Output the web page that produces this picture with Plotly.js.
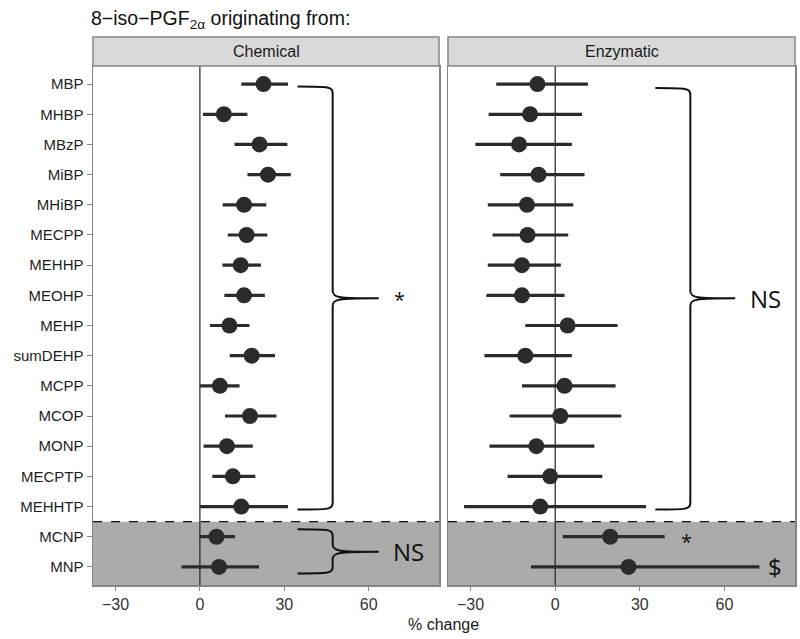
<!DOCTYPE html>
<html>
<head>
<meta charset="utf-8">
<script src="https://cdn.plot.ly/plotly-3.0.1.min.js"></script>
<style>
  html, body { margin: 0; padding: 0; background: #fff; }
  #chart { width: 800px; height: 639px; }
</style>
</head>
<body>
<div id="chart"></div>
<script>
// metabolites, top to bottom
var metabolites = ['MBP', 'MHBP', 'MBzP', 'MiBP', 'MHiBP', 'MECPP', 'MEHHP', 'MEOHP', 'MEHP',
                   'sumDEHP', 'MCPP', 'MCOP', 'MONP', 'MECPTP', 'MEHHTP', 'MCNP', 'MNP'];

// % change and 95% CI, chemical origin
var chemEst = [22.6, 8.5, 21.2, 24.2, 15.7, 16.6, 14.5, 15.7, 10.5, 18.4, 7.1, 17.8, 9.6, 11.7, 14.7, 5.9, 6.8];
var chemLow = [14.7, 1.1, 12.3, 16.9, 8.1, 9.9, 8.0, 8.7, 3.6, 10.6, 0.0, 8.9, 1.3, 4.4, 0.0, -0.2, -6.5];
var chemHigh = [31.3, 16.9, 31.1, 32.3, 23.6, 24.0, 21.7, 23.1, 17.6, 26.7, 14.1, 27.2, 18.8, 19.7, 31.3, 12.5, 21.0];

// % change and 95% CI, enzymatic origin
var enzEst = [-6.3, -8.9, -12.8, -5.9, -10.0, -9.8, -11.8, -11.8, 4.4, -10.6, 3.3, 1.8, -6.7, -1.8, -5.3, 19.5, 26.0];
var enzLow = [-20.9, -23.6, -28.3, -19.5, -23.9, -22.2, -23.9, -24.4, -10.6, -25.1, -11.8, -16.2, -23.3, -16.9, -32.3, 2.7, -8.6];
var enzHigh = [11.6, 9.5, 5.9, 10.4, 6.4, 4.6, 2.0, 3.3, 22.1, 5.9, 21.4, 23.4, 13.9, 16.7, 32.2, 38.8, 72.4];

var xTicks = [-30, 0, 30, 60];
var panels = ['Chemical', 'Enzymatic'];

var dark = '#2b2b2b';
var frame = '#858585';

function ciTrace(est, low, high, xa, ya) {
  return {
    type: 'scatter',
    mode: 'markers',
    x: est,
    y: metabolites,
    xaxis: xa,
    yaxis: ya,
    marker: { color: dark, size: 16 },
    error_x: {
      type: 'data',
      symmetric: false,
      array: est.map(function (v, i) { return high[i] - v; }),
      arrayminus: est.map(function (v, i) { return v - low[i]; }),
      color: dark,
      thickness: 3.2,
      width: 0
    },
    showlegend: false,
    hoverinfo: 'skip'
  };
}

var data = [
  ciTrace(chemEst, chemLow, chemHigh, 'x', 'y'),
  ciTrace(enzEst, enzLow, enzHigh, 'x2', 'y2')
];

var xBase = {
  range: [-38, 85],
  tickvals: xTicks,
  ticktext: xTicks.map(function (v) { return v < 0 ? '\u2212' + Math.abs(v) : String(v); }),
  ticks: 'outside',
  ticklen: 4,
  tickcolor: frame,
  tickfont: { family: 'Liberation Sans, Arial, sans-serif', size: 16, color: '#333' },
  showgrid: false,
  zeroline: false,
  showline: true,
  mirror: true,
  linecolor: frame,
  linewidth: 1.5
};
var yBase = {
  type: 'category',
  categoryorder: 'array',
  categoryarray: metabolites,
  range: [16.6, -0.6],
  ticks: 'outside',
  ticklen: 5,
  tickcolor: frame,
  tickfont: { family: 'Liberation Sans, Arial, sans-serif', size: 15, color: '#1e1e1e' },
  showgrid: false,
  zeroline: false,
  showline: true,
  mirror: true,
  linecolor: frame,
  linewidth: 1.5
};

function clone(o) { return JSON.parse(JSON.stringify(o)); }

var xa1 = clone(xBase); xa1.domain = [0, 0.4929]; xa1.anchor = 'y';
var xa2 = clone(xBase); xa2.domain = [0.5057, 1]; xa2.anchor = 'y2';
var ya1 = clone(yBase); ya1.domain = [0, 1]; ya1.anchor = 'x';
var ya2 = clone(yBase); ya2.domain = [0, 1]; ya2.anchor = 'x2'; ya2.showticklabels = false; ya2.ticks = '';

// curly brace as svg path in data coords of a panel
function brace(xs, xv, xt, y0, ym, y1) {
  var c = 0.25;
  return 'M ' + xs + ',' + y0 +
    ' C ' + (xv - 1) + ',' + y0 + ' ' + xv + ',' + y0 + ' ' + xv + ',' + (y0 + c) +
    ' L ' + xv + ',' + (ym - c) +
    ' C ' + xv + ',' + (ym - 0.02) + ' ' + (xv + 2) + ',' + ym + ' ' + xt + ',' + ym +
    ' C ' + (xv + 2) + ',' + ym + ' ' + xv + ',' + (ym + 0.02) + ' ' + xv + ',' + (ym + c) +
    ' L ' + xv + ',' + (y1 - c) +
    ' C ' + xv + ',' + y1 + ' ' + (xv - 1) + ',' + y1 + ' ' + xs + ',' + y1;
}

var shapes = [];
var annotations = [];
var refs = [['x', 'y'], ['x2', 'y2']];
refs.forEach(function (r, i) {
  // shaded block for the last two rows
  shapes.push({ type: 'rect', layer: 'below', xref: r[0] + ' domain', yref: r[1],
    x0: 0, x1: 1, y0: 14.5, y1: 16.6, fillcolor: '#ababab', line: { width: 0 } });
  shapes.push({ type: 'line', layer: 'above', xref: r[0] + ' domain', yref: r[1],
    x0: 0, x1: 1, y0: 14.5, y1: 14.5, line: { color: '#111', width: 1.3, dash: 'dash' } });
  // zero line
  shapes.push({ type: 'line', layer: 'below', xref: r[0], yref: r[1] + ' domain',
    x0: 0, x1: 0, y0: 0, y1: 1, line: { color: '#222', width: 1.2 } });
  // facet strip
  shapes.push({ type: 'rect', xref: r[0] + ' domain', yref: 'paper',
    x0: 0, x1: 1, y0: 1.0, y1: 1.0 + 29 / 519, fillcolor: '#d9d9d9', line: { color: frame, width: 1.5 } });
  annotations.push({ xref: r[0] + ' domain', yref: 'paper', x: 0.5, y: 1.0 + 14.5 / 519,
    text: panels[i], showarrow: false, xanchor: 'center', yanchor: 'middle',
    font: { family: 'Liberation Sans, Arial, sans-serif', size: 16, color: '#1a1a1a' } });
});

shapes.push({ type: 'path', xref: 'x', yref: 'y', path: brace(34.7, 47.2, 63.6, 0.08, 7.1, 14.1),
  line: { color: '#111', width: 2 } });
shapes.push({ type: 'path', xref: 'x', yref: 'y', path: brace(34.7, 47.2, 63.6, 14.75, 15.5, 16.22),
  line: { color: '#111', width: 2 } });
shapes.push({ type: 'path', xref: 'x2', yref: 'y2', path: brace(35.5, 47.9, 63.8, 0.13, 7.1, 14.1),
  line: { color: '#111', width: 2 } });

var markFont = { family: 'Open Sans, DejaVu Sans, sans-serif', color: '#111' };
function mark(xr, yr, x, y, text, size) {
  annotations.push({ xref: xr, yref: yr, x: x, y: y, text: text, showarrow: false,
    xanchor: 'center', yanchor: 'middle',
    font: { family: markFont.family, color: markFont.color, size: size } });
}
mark('x', 'y', 70.8, 7.15, '*', 20);
mark('x', 'y', 74, 15.5, 'NS', 24);
mark('x2', 'y2', 74.5, 7.1, 'NS', 24);
mark('x2', 'y2', 46.7, 15.15, '*', 20);
mark('x2', 'y2', 78, 16.0, '$', 24);

annotations.push({ xref: 'paper', yref: 'paper', x: 0.4993, y: -0.055, yanchor: 'top',
  text: '% change', showarrow: false,
  font: { family: 'Liberation Sans, Arial, sans-serif', size: 16, color: '#1a1a1a' } });

var layout = {
  width: 800,
  height: 639,
  margin: { l: 93, r: 5, t: 66, b: 54 },
  paper_bgcolor: '#fff',
  plot_bgcolor: '#fff',
  title: {
    text: '8\u2212iso\u2212PGF<sub>2\u03b1</sub> originating from:',
    x: 91 / 800, xanchor: 'left',
    y: 1 - 18 / 639, yanchor: 'middle',
    font: { family: 'Liberation Sans, Arial, sans-serif', size: 19.5, color: '#111' }
  },
  xaxis: xa1,
  xaxis2: xa2,
  yaxis: ya1,
  yaxis2: ya2,
  shapes: shapes,
  annotations: annotations,
  showlegend: false
};

Plotly.newPlot('chart', data, layout, { displayModeBar: false, staticPlot: true });
</script>
</body>
</html>
